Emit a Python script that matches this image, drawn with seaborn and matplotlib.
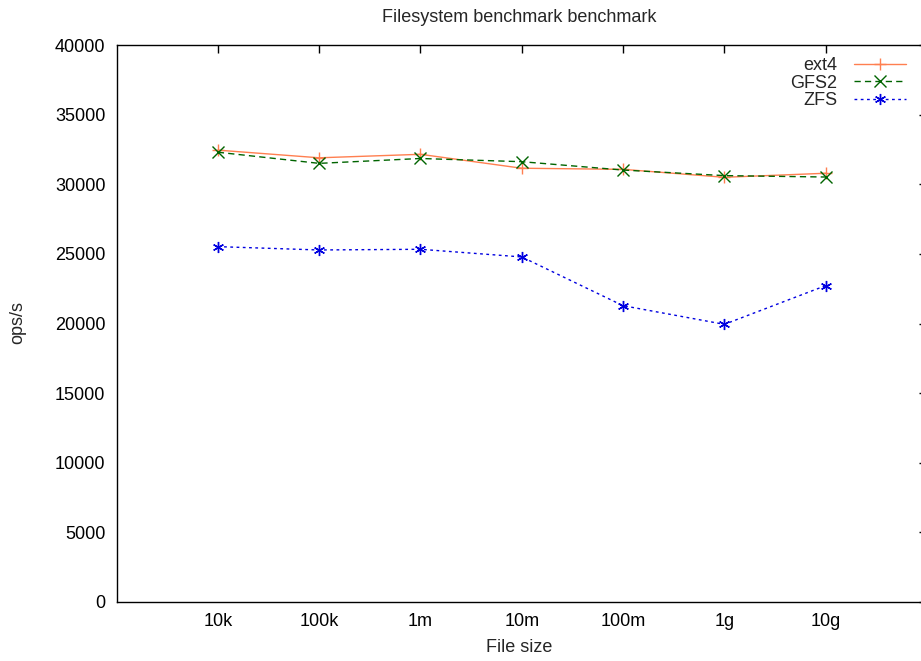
import matplotlib
matplotlib.use("Agg")
import matplotlib.pyplot as plt
import seaborn as sns
import pandas as pd

sizes = ["10k", "100k", "1m", "10m", "100m", "1g", "10g"]
ext4 = [32450, 31900, 32150, 31150, 31070, 30500, 30790]
gfs2 = [32300, 31500, 31850, 31620, 31020, 30620, 30520]
zfs = [25520, 25280, 25330, 24780, 21280, 19940, 22720]
series_names = ["ext4", "GFS2", "ZFS"]
yticks = [0, 5000, 10000, 15000, 20000, 25000, 30000, 35000, 40000]

rows = []
for name, vals in zip(series_names, [ext4, gfs2, zfs]):
    for i, (s, v) in enumerate(zip(sizes, vals)):
        rows.append({"pos": i, "size": s, "ops": v, "fs": name})
df = pd.DataFrame(rows)

sns.set_style("white")
plt.rcParams["font.family"] = ["Liberation Sans", "DejaVu Sans"]
FS = 13

W, H = 921, 661
fig = plt.figure(figsize=(W / 100, H / 100), dpi=100)
left, right, top, bottom = 116.5, 927, 45, 602
ax = fig.add_axes([left / W, 1 - bottom / H, (right - left) / W, (bottom - top) / H])

palette = {"ext4": "#ff7f50", "GFS2": "#006400", "ZFS": "#0000e0"}
markers = {"ext4": "+", "GFS2": "x", "ZFS": (6, 2, 0)}
dashes = {"ext4": "", "GFS2": (4.5, 3), "ZFS": (2, 2.5)}

sns.lineplot(data=df, x="pos", y="ops", hue="fs", style="fs",
             palette=palette, markers=markers, dashes=dashes,
             linewidth=1.0, markersize=8, markeredgewidth=1.0,
             ax=ax, legend=True)

for ln in ax.lines:
    ln.set_markeredgecolor(ln.get_color())
    ln.set_markerfacecolor(ln.get_color())

ax.set_xlim(-1, 7)
ax.set_ylim(0, 40000)
ax.set_xticks(range(len(sizes)))
ax.set_xticklabels(sizes)
ax.set_yticks(yticks)
ax.set_yticklabels([str(t) for t in yticks])
ax.tick_params(direction="in", length=6, width=1, top=True, right=True,
               labelsize=FS, colors="black", pad=8)
for sp in ax.spines.values():
    sp.set_visible(True)
    sp.set_color("black")
    sp.set_linewidth(1.0)
ax.set_xlabel("")
ax.set_ylabel("")

fig.text(519 / W, 1 - 647 / H, "File size", ha="center", va="center", fontsize=FS)
fig.text(18 / W, 1 - 322 / H, "ops/s", ha="center", va="center", rotation=90, fontsize=FS)
fig.text(519 / W, 1 - 18 / H, "Filesystem benchmark benchmark", ha="center", va="center", fontsize=FS)

handles, labels = ax.get_legend_handles_labels()
for h in handles:
    h.set_markeredgecolor(h.get_color())
anchor = ax.transAxes.inverted().transform(fig.transFigure.transform((906 / W, 1 - 57 / H)))
leg = ax.legend(handles, labels, loc="upper right", bbox_to_anchor=tuple(anchor),
                frameon=False, markerfirst=False, handlelength=2.9, handletextpad=0.9,
                labelspacing=0.03, fontsize=FS, borderaxespad=0.0, borderpad=0.0)
for t in leg.get_texts():
    t.set_ha("right")

fig.savefig("out.png", dpi=100)
